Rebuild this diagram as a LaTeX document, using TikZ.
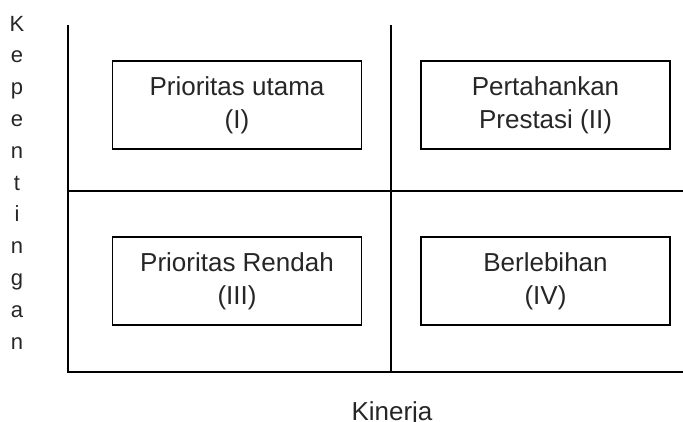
\documentclass[tikz,border=0pt]{standalone}
\usepackage{fontspec}
\setmainfont{Liberation Sans}
\begin{document}
\begin{tikzpicture}[x=1pt, y=-1pt, line width=2pt,
		every node/.append style={font=\fontsize{26}{33}\selectfont, text=black!85},
		kuadran/.style={draw, line width=1.5pt, minimum width=249pt, minimum height=88pt, align=center, inner sep=0pt}]
	\useasboundingbox (0,0) rectangle (683,421);
	% sumbu
	\coordinate (atas) at (68,25);
	\coordinate (o) at (68,372);
	\coordinate (kanan) at (683,372);
	\coordinate (tengahatas) at (391,25);
	\coordinate (tengahbawah) at (391,372);
	\coordinate (kiri) at (68,191);
	\coordinate (kanantengah) at (683,191);
	\draw (atas) -- (o) -- (kanan);
	\draw (tengahatas) -- (tengahbawah);
	\draw (kiri) -- (kanantengah);
	% kuadran
	\node[kuadran] (q1) at (237,105) {Prioritas utama\\(I)};
	\node[kuadran] (q2) at (545.5,105) {Pertahankan\\Prestasi (II)};
	\node[kuadran] (q3) at (237,281) {Prioritas Rendah\\(III)};
	\node[kuadran] (q4) at (545.5,281) {Berlebihan\\(IV)};
	% label sumbu
	\node[anchor=base, align=center, font=\fontsize{22}{31.8}\selectfont] (kepentingan) at (17,349) {K\\e\\p\\e\\n\\t\\i\\n\\g\\a\\n};
	\node[anchor=base] (kinerja) at (392,420) {Kinerja};
\end{tikzpicture}
\end{document}
